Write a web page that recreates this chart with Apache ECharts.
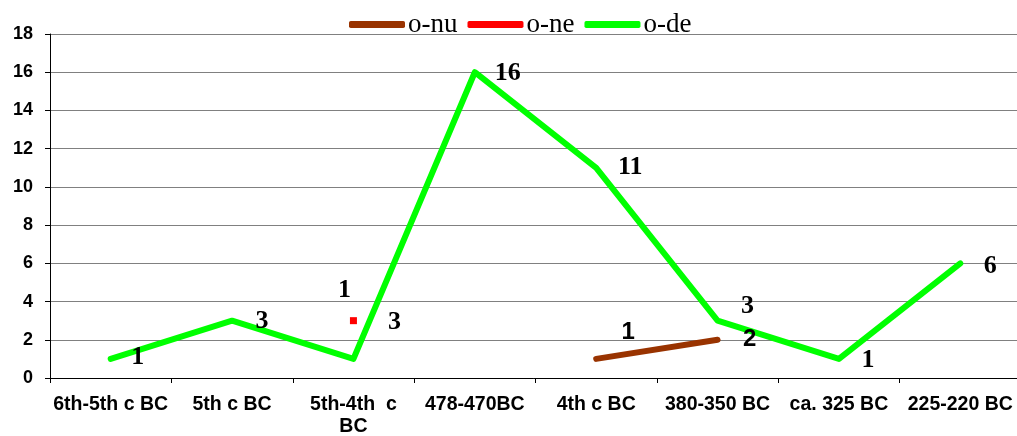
<!DOCTYPE html>
<html>
<head>
<meta charset="utf-8">
<script src="https://cdn.jsdelivr.net/npm/echarts@6/dist/echarts.min.js"></script>
<style>html,body{margin:0;padding:0;background:#fff}#chart{width:1017px;height:436px}</style>
</head>
<body>
<div id="chart"></div>
<script>
var categories = ["6th-5th c BC", "5th c BC", "5th-4th  c\nBC", "478-470BC", "4th c BC", "380-350 BC", "ca. 325 BC", "225-220 BC"];
var seriesNames = ["o-nu", "o-ne", "o-de"];
var onuValues = [null, null, null, null, 1, 2, null, null];
var oneValues = [null, null, 3, null, null, null, null, null];
var odeValues = [1, 3, 1, 16, 11, 3, 1, 6];
var yTicks = { min: 0, max: 18, interval: 2 };

// label placement offsets (pixels, styling only)
var onuLabelOffsets = [null, null, null, null, [32, -27], [32, 0], null, null];
var oneLabelOffsets = [null, null, [41, 2], null, null, null, null, null];
var odeLabelOffsets = [[27, -2], [30, 1], [-9, -69], [33, 1], [34, 0], [30, -14], [29, 1], [30, 3]];

function withLabels(values, offsets) {
  return values.map(function (v, i) {
    if (v === null) return null;
    return { value: v, label: { offset: offsets[i] } };
  });
}

var chart = echarts.init(document.getElementById('chart'), null, { renderer: 'canvas' });
var serifLabel = { show: true, position: 'inside', fontFamily: 'Liberation Serif', fontWeight: 'bold', fontSize: 26, color: '#000' };
var sansLabel = { show: true, position: 'inside', fontFamily: 'Liberation Sans', fontWeight: 'bold', fontSize: 24, color: '#000' };

chart.setOption({
  animation: false,
  backgroundColor: '#fff',
  legend: {
    data: seriesNames,
    top: 6,
    left: 344,
    icon: 'roundRect',
    itemWidth: 56,
    itemHeight: 7,
    itemGap: 10,
    textStyle: { fontFamily: 'Liberation Serif', fontSize: 27, color: '#000', padding: [0, 0, 0, -2] }
  },
  grid: { left: 50, right: -4, top: 34, bottom: 58, containLabel: false, outerBoundsMode: 'none' },
  xAxis: {
    type: 'category',
    data: categories,
    boundaryGap: true,
    axisLine: { lineStyle: { color: '#000', width: 1 } },
    axisTick: { show: true, alignWithLabel: false, length: 5, lineStyle: { color: '#000' } },
    axisLabel: { interval: 0, margin: 16, fontFamily: 'Liberation Sans', fontWeight: 'bold', fontSize: 19.5, color: '#000', lineHeight: 22 },
    splitLine: { show: false }
  },
  yAxis: {
    type: 'value',
    min: yTicks.min, max: yTicks.max, interval: yTicks.interval,
    axisLine: { show: true, lineStyle: { color: '#000', width: 1 } },
    axisTick: { show: true, length: 5, lineStyle: { color: '#000' } },
    axisLabel: { margin: 17, fontFamily: 'Liberation Sans', fontWeight: 'bold', fontSize: 18, color: '#000' },
    splitLine: { show: true, lineStyle: { color: '#808080', width: 1 } }
  },
  series: [
    {
      name: 'o-nu', type: 'line', data: withLabels(onuValues, onuLabelOffsets),
      color: '#993300', symbol: 'circle', symbolSize: 0.1, showSymbol: true,
      lineStyle: { width: 6, color: '#993300', cap: 'round', join: 'round' },
      label: sansLabel, connectNulls: false, z: 3
    },
    {
      name: 'o-ne', type: 'line', data: withLabels(oneValues, oneLabelOffsets),
      color: '#ff0000', symbol: 'rect', symbolSize: 7, showSymbol: true,
      itemStyle: { color: '#ff0000' },
      lineStyle: { width: 6, color: '#ff0000' },
      label: serifLabel, z: 3
    },
    {
      name: 'o-de', type: 'line', data: withLabels(odeValues, odeLabelOffsets),
      color: '#00ff00', symbol: 'circle', symbolSize: 0.1, showSymbol: true,
      lineStyle: { width: 6, color: '#00ff00', cap: 'round', join: 'round' },
      label: serifLabel, z: 2
    }
  ]
});
</script>
</body>
</html>
